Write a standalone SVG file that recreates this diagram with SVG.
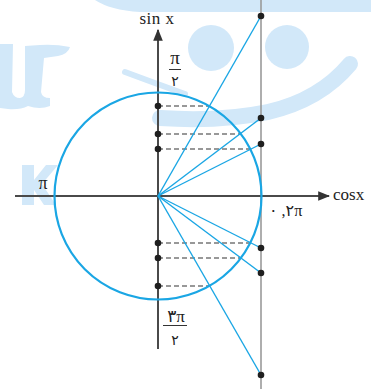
<svg xmlns="http://www.w3.org/2000/svg" width="371" height="389" viewBox="0 0 371 389">
<style>
.wm{fill:#d2e8f9;stroke:none}
.wms{fill:none;stroke:#d2e8f9;stroke-linecap:round}
.axis{stroke:#4a4a4a;stroke-width:2;fill:none}
.tan{stroke:#9a9a9a;stroke-width:1.6;fill:none}
.ray{stroke:#1aa6e4;stroke-width:1.4;fill:none}
.circ{stroke:#1aa6e4;stroke-width:2.2;fill:none}
.dash{stroke:#333;stroke-width:1.2;stroke-dasharray:5 3;fill:none}
.dot{fill:#1f1f1f}
.t{font-family:"Liberation Serif","DejaVu Sans",serif;fill:#222}
</style>
<defs>
<marker id="ah" viewBox="0 0 10 10" refX="9" refY="5" markerWidth="6" markerHeight="6" markerUnits="strokeWidth" orient="auto">
<path d="M0,1 L10,5 L0,9 z" fill="#333"/>
</marker>
</defs>
<rect width="371" height="389" fill="#fff"/>
<g id="watermark">
<path class="wm" d="M95,0 H371 V12 H140 Q110,10 95,0 z"/>
<circle class="wm" cx="211" cy="48" r="23"/>
<circle class="wm" cx="287" cy="47" r="22"/>
<path class="wms" stroke-width="16" d="M350,64 Q320,100 268,112 Q220,122 160,118"/>
<path class="wms" stroke-width="6" d="M125,72 Q160,85 185,94"/>
<path class="wm" d="M0,44 H13 L12,92 Q14,98 20,98 Q25,97 25,90 L25,46 L40,45 Q55,44 70,47 Q68,54 58,56 L44,58 L41,92 Q42,98 50,98 L50,106 Q40,110 28,106 Q20,110 8,109 L0,108 z"/>
<path class="wm" d="M22,165 H34 V180 L46,165 H58 L42,184 L56,205 H44 L34,190 V205 H22 z"/>
</g>
<g id="connectors">
<line id="tangent" class="tan" x1="261" y1="0" x2="261" y2="389"/>
<line id="x-axis" class="axis" x1="15" y1="196" x2="329" y2="196" marker-end="url(#ah)"/>
<line id="y-axis" class="axis" x1="158" y1="349" x2="158" y2="30" marker-end="url(#ah)"/>
<line class="dash" x1="158" y1="106" x2="209" y2="106"/>
<line class="dash" x1="158" y1="134" x2="240" y2="134"/>
<line class="dash" x1="158" y1="149" x2="250" y2="149"/>
<line class="dash" x1="158" y1="243" x2="250" y2="243"/>
<line class="dash" x1="158" y1="258" x2="240" y2="258"/>
<line class="dash" x1="158" y1="286" x2="209" y2="286"/>
<line class="ray" x1="158" y1="196" x2="261" y2="16"/>
<line class="ray" x1="158" y1="196" x2="261" y2="118"/>
<line class="ray" x1="158" y1="196" x2="261" y2="144"/>
<line class="ray" x1="158" y1="196" x2="261" y2="248"/>
<line class="ray" x1="158" y1="196" x2="261" y2="273"/>
<line class="ray" x1="158" y1="196" x2="261" y2="375"/>
</g>
<g id="unit-circle">
<circle class="circ" cx="158" cy="196" r="103.5"/>
</g>
<g id="sine-points">
<circle class="dot" cx="158" cy="106" r="3.3"/>
<circle class="dot" cx="158" cy="134" r="3.3"/>
<circle class="dot" cx="158" cy="149" r="3.3"/>
<circle class="dot" cx="158" cy="243" r="3.3"/>
<circle class="dot" cx="158" cy="258" r="3.3"/>
<circle class="dot" cx="158" cy="286" r="3.3"/>
</g>
<g id="tangent-points">
<circle class="dot" cx="261" cy="16" r="3.3"/>
<circle class="dot" cx="261" cy="118" r="3.3" fill="#2e4358"/>
<circle class="dot" cx="261" cy="144" r="3.3"/>
<circle class="dot" cx="261" cy="248" r="3.3"/>
<circle class="dot" cx="261" cy="273" r="3.3"/>
<circle class="dot" cx="261" cy="375" r="3.3"/>
</g>
<g id="labels">
<text class="t" x="157" y="24" font-size="17" text-anchor="middle" letter-spacing="0.5">sin x</text>
<text class="t" x="175" y="64" font-size="19" text-anchor="middle">π</text>
<line x1="169" y1="69.5" x2="181" y2="69.5" stroke="#333" stroke-width="1"/>
<text class="t" x="175" y="86" font-size="14" text-anchor="middle">۲</text>
<text class="t" x="43" y="189" font-size="18" text-anchor="middle">π</text>
<text class="t" x="333" y="200" font-size="17">cosx</text>
<text class="t" x="269" y="216" font-size="16">۰ ,۲π</text>
<text class="t" x="176" y="322" font-size="17" text-anchor="middle">۳π</text>
<line x1="163" y1="325.5" x2="187" y2="325.5" stroke="#333" stroke-width="1"/>
<text class="t" x="175" y="345" font-size="14" text-anchor="middle">۲</text>
</g>
</svg>
